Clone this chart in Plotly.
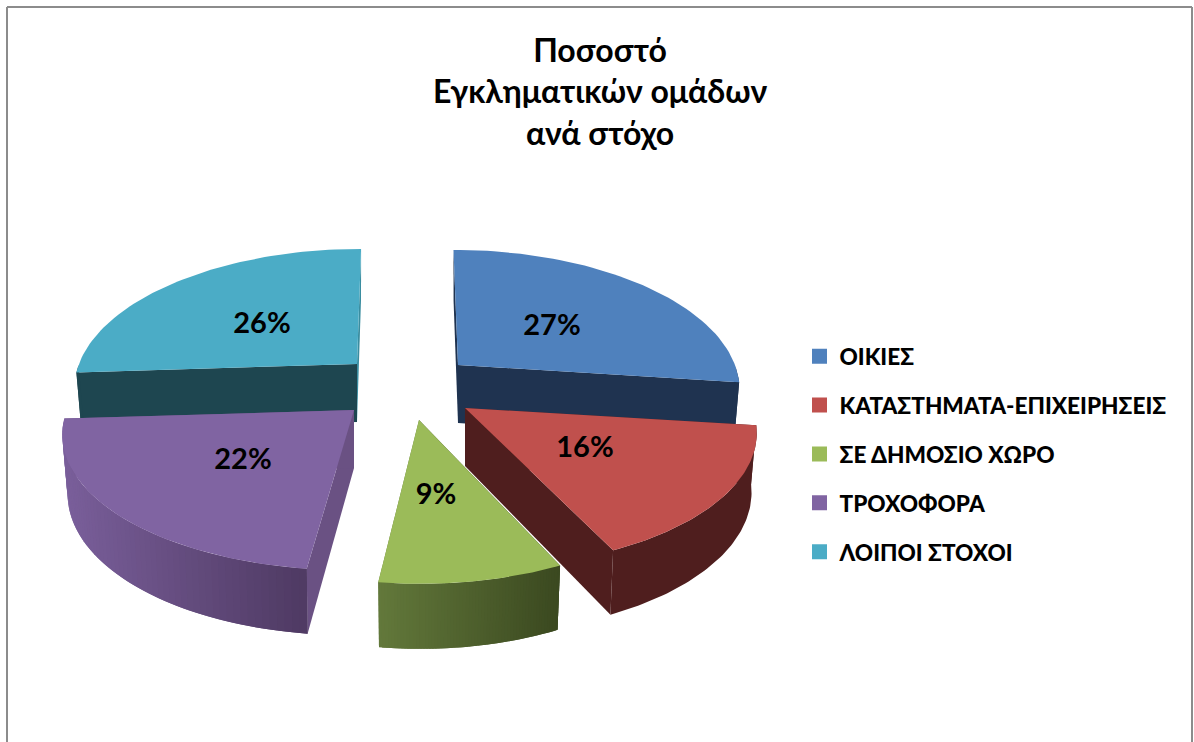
import math
import plotly.graph_objects as go

# ---- data ----
CATEGORIES = ["ΟΙΚΙΕΣ", "ΚΑΤΑΣΤΗΜΑΤΑ-ΕΠΙΧΕΙΡΗΣΕΙΣ", "ΣΕ ΔΗΜΟΣΙΟ ΧΩΡΟ", "ΤΡΟΧΟΦΟΡΑ", "ΛΟΙΠΟΙ ΣΤΟΧΟΙ"]
VALUES = [27, 16, 9, 22, 26]
TITLE_LINES = ["Ποσοστό", "Εγκληματικών ομάδων", "ανά στόχο"]

# ---- styling / layout ----
TOP_COLORS = ["#4f81bd", "#c0504d", "#9bbb59", "#8064a2", "#4bacc6"]
WALL_LEFT = ["#1f3350", "#4f1e1e", "#63793b", "#7a5f9b", "#1e4650"]
WALL_RIGHT = ["#1f3350", "#4f1e1e", "#3b4920", "#4f3a63", "#1e4650"]
FACE_START = ["#1f3350", "#4f1e1e", "#3b4920", "#6a5183", "#1e4650"]
FACE_END = ["#1f3350", "#4f1e1e", "#63793b", "#6a5183", "#3a8da0"]
APEX_X = [458, 465, 419, 354, 357]
APEX_Y = [365, 408, 420, 410, 364]
RADIUS_X = [277, 287, 280, 287, 278]
RADIUS_Y = [134, 134, 137, 134, 134]
PERSPECTIVE = 0.164
VANISH_X = 405
LEAN = 0.085
DEPTH = 58
DEPTH_GROW = 0.12
BOTTOM_SHRINK = 0.982
LABEL_X = [552, 585, 436, 243, 262]
LABEL_Y = [328, 450, 497, 462, 326]
PAINT_ORDER = [4, 0, 1, 3, 2]
FONT = "Lato, 'Noto Sans', sans-serif"
FRAME = "#8c8c8c"


def project(i, theta, bottom=False):
    u, v = math.sin(theta), -math.cos(theta)
    s = 1 / (1 - PERSPECTIVE * v)
    x = APEX_X[i] + u * RADIUS_X[i] * s + v * (APEX_X[i] - VANISH_X) * LEAN
    y = APEX_Y[i] + RADIUS_Y[i] * v * s
    if bottom:
        x = APEX_X[i] + (x - APEX_X[i]) * BOTTOM_SHRINK
        y += DEPTH * (1 + DEPTH_GROW * v)
    return x, y


def mix(a, b, t):
    ca = [int(a[k:k + 2], 16) for k in (1, 3, 5)]
    cb = [int(b[k:k + 2], 16) for k in (1, 3, 5)]
    return "#" + "".join(f"{round(p + (q - p) * t):02x}" for p, q in zip(ca, cb))


def poly(xs, ys, color, name=None):
    return go.Scatter(x=xs, y=ys, mode="lines", fill="toself", fillcolor=color,
                      line=dict(width=0), showlegend=False,
                      name=name, hoverinfo="name" if name else "skip")


total = sum(VALUES)
bounds = [0.0]
for val in VALUES:
    bounds.append(bounds[-1] + val / total * 2 * math.pi)

fig = go.Figure()
for i in PAINT_ORDER:
    a0, a1 = bounds[i], bounds[i + 1]
    ax, ay = APEX_X[i], APEX_Y[i]
    n = 60
    thetas = [a0 + (a1 - a0) * k / n for k in range(n + 1)]
    top = [project(i, t) for t in thetas]
    bot = [project(i, t, True) for t in thetas]
    xs = [p[0] for p in top]
    ys = [p[1] for p in top]

    # the two cut faces
    for pt, pb, col in ((top[0], bot[0], FACE_START[i]), (top[-1], bot[-1], FACE_END[i])):
        fig.add_trace(poly([ax, pt[0], pb[0], ax, ax],
                           [ay, pt[1], pb[1], ay + DEPTH, ay], col))

    # outer curved wall (only the part that faces the viewer)
    front = [k for k in range(n + 1) if -math.cos(thetas[k]) > 0]
    if len(front) > 1:
        if WALL_LEFT[i] == WALL_RIGHT[i]:
            fx = [xs[k] for k in front] + [bot[k][0] for k in reversed(front)]
            fy = [ys[k] for k in front] + [bot[k][1] for k in reversed(front)]
            fig.add_trace(poly(fx + fx[:1], fy + fy[:1], WALL_LEFT[i]))
        else:
            lo, hi = min(xs), max(xs)
            ascending = xs[n] > xs[0]
            for k in sorted(range(n), key=lambda q: xs[q]):
                a, b = (k, min(k + 2, n)) if ascending else (max(k - 1, 0), k + 1)
                t = ((xs[a] + xs[b]) / 2 - lo) / max(hi - lo, 1)
                col = mix(WALL_LEFT[i], WALL_RIGHT[i], t)
                fig.add_trace(poly([xs[a], xs[b], bot[b][0], bot[a][0], xs[a]],
                                   [ys[a], ys[b], bot[b][1], bot[a][1], ys[a]], col))

    # top surface
    fig.add_trace(poly([ax] + xs + [ax], [ay] + ys + [ay], TOP_COLORS[i], CATEGORIES[i]))

# percentage labels
fig.add_trace(go.Scatter(x=LABEL_X, y=LABEL_Y, mode="text",
                         text=[f"{v}%" for v in VALUES], showlegend=False, hoverinfo="skip",
                         textfont=dict(family=FONT, size=29, color="#000000", weight="bold")))

# legend entries
for name, color in zip(CATEGORIES, TOP_COLORS):
    fig.add_trace(go.Scatter(x=[None], y=[None], mode="markers", name=name, legendgroup=name,
                             marker=dict(symbol="square", size=15, color=color)))

fig.update_layout(
    width=1194, height=742, margin=dict(l=0, r=0, t=0, b=0),
    paper_bgcolor="#ffffff", plot_bgcolor="#ffffff",
    font=dict(family=FONT, color="#000000"),
    title=dict(text="<br>".join(f"<b>{t}</b>" for t in TITLE_LINES),
               x=600 / 1194, xanchor="center", y=1 - 61.5 / 742, yanchor="top",
               font=dict(family=FONT, size=32, color="#000000")),
    xaxis=dict(range=[0, 1194], visible=False, fixedrange=True),
    yaxis=dict(range=[742, 0], visible=False, fixedrange=True),
    legend=dict(x=799.5 / 1194, xanchor="left", y=1 - 335 / 742, yanchor="top",
                tracegroupgap=16.5, bgcolor="rgba(0,0,0,0)", itemsizing="trace",
                font=dict(family=FONT, size=22.6, color="#000000", weight=900)),
    shapes=[
        dict(type="line", xref="x", yref="y", x0=7, y0=7, x1=1192, y1=7, line=dict(color=FRAME, width=2)),
        dict(type="line", xref="x", yref="y", x0=7, y0=7, x1=7, y1=742, line=dict(color=FRAME, width=2)),
        dict(type="line", xref="x", yref="y", x0=1192, y0=7, x1=1192, y1=742, line=dict(color=FRAME, width=2)),
    ],
)
fig.write_html("out.html", config={"displayModeBar": False},
               post_script="document.body.style.margin='0';")
